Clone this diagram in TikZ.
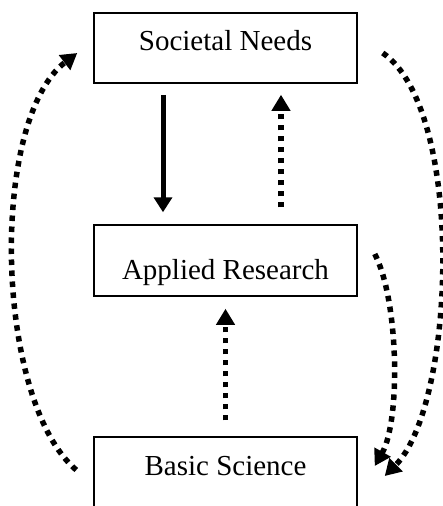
\documentclass[tikz,border=0pt]{standalone}
\usepackage{fontspec}
\setmainfont{Liberation Serif}
\usetikzlibrary{arrows.meta,calc}
\begin{document}
\begin{tikzpicture}[x=1pt,y=-1pt,
  box/.style={draw, line width=1.5pt, minimum width=263pt, inner sep=3pt,
    font=\fontsize{29}{34}\selectfont},
  solidarrow/.style={line width=5pt, -{Triangle[width=18pt,length=15pt]}},
  dotarrow/.style={line width=5.5pt, dash pattern=on 5.5pt off 5.5pt,
    -{Triangle[width=18pt,length=16pt]}},
]
\useasboundingbox (0,0) rectangle (442,506);

% the three stages
\node[box, minimum height=70pt, text height=20pt, text depth=16pt] (soc) at (225.5,48) {Societal Needs};
\node[box, minimum height=71pt, text height=37pt, text depth=0pt] (app) at (225.5,260.5) {Applied Research};
\node[box, minimum height=80pt, text height=16pt, text depth=20pt] (bas) at (225.5,477) {Basic Science};

% straight links between neighbouring stages
\draw[solidarrow] ($(soc.south)+(-62.5,11)$) -- ($(app.north)+(-62.5,-12)$);
\draw[dotarrow] ($(app.north)+(55.5,-17)$) -- ($(soc.south)+(55.5,11)$);
\draw[dotarrow] ($(bas.north)+(0,-16)$) -- ($(app.south)+(0,12)$);

% curved feedback links
\draw[dotarrow] ($(bas.west)+(-17,-7)$) .. controls +(-82,-70) and +(-88,67) .. ($(soc.west)+(-16,5)$);
\draw[dotarrow] ($(soc.east)+(25,5)$) .. controls +(83,57) and +(71,-71) .. ($(bas.east)+(27,-1)$);
\draw[dotarrow] ($(app.east)+(17,-6.5)$) .. controls +(24,46) and +(26,-46) .. ($(bas.east)+(17,-11)$);
\end{tikzpicture}
\end{document}
